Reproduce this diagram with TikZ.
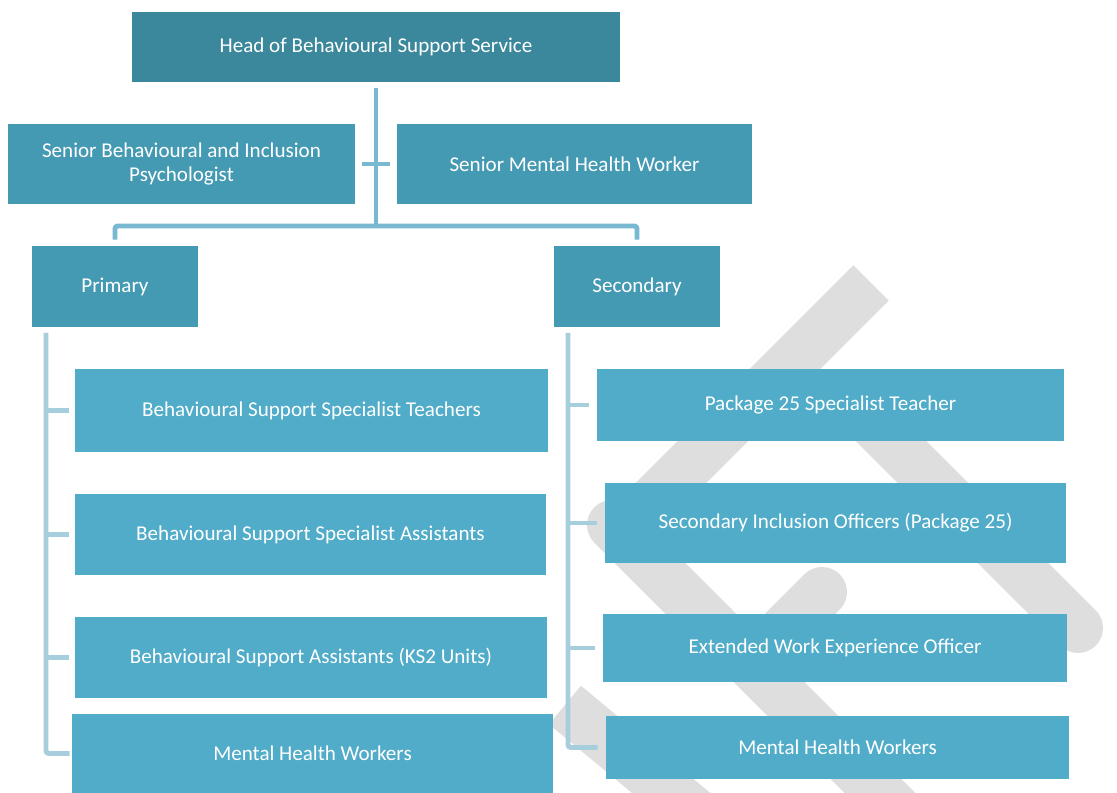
\documentclass[tikz,border=0pt]{standalone}
\usepackage{fontspec}
\setmainfont{Carlito}
\definecolor{headblue}{HTML}{3B879B}
\definecolor{midblue}{HTML}{4499B3}
\definecolor{lightblue}{HTML}{50ACC8}
\definecolor{treeline}{HTML}{78B8D0}
\definecolor{sideline}{HTML}{A6CEDC}
\definecolor{markgray}{HTML}{DEDEDE}
\tikzset{
    box/.style = {fill=lightblue, text=white, inner sep=2pt, align=center,
        font=\fontsize{15}{16.5}\selectfont},
    link/.style = {treeline, line width=3.5pt},
    side/.style = {sideline, line width=3.5pt},
    stripe/.style = {markgray, line width=1.25cm}
}
\begin{document}
\begin{tikzpicture}[x=0.025cm, y=-0.025cm]
    \useasboundingbox (0,0) rectangle (1117,793);
    % watermark behind the chart
    \draw [stripe] (871,283) -- (620,534);
    \draw [stripe, line cap=round] (860,410) -- (1078,628);
    \draw [stripe, line cap=round] (612,525) -- (900,813);
    \draw [stripe] (565,705) -- (740,850);
    \draw [stripe, line cap=round] (822,592) -- (760,654);
    % top levels
    \node [box, fill=headblue, minimum width=12.2cm, minimum height=1.75cm] (head) at (376,47) {Head of Behavioural Support Service};
    \node [box, fill=midblue, minimum width=8.675cm, minimum height=2cm] (psych) at (181.5,164) {Senior Behavioural and Inclusion\\Psychologist};
    \node [box, fill=midblue, minimum width=8.875cm, minimum height=2cm] (smhw) at (574.5,164) {Senior Mental Health Worker};
    \node [box, fill=midblue, minimum width=4.15cm, minimum height=2.025cm] (pri) at (115,286.5) {Primary};
    \node [box, fill=midblue, minimum width=4.15cm, minimum height=2.025cm] (sec) at (637,286.5) {Secondary};
    % primary team
    \node [box, minimum width=11.825cm, minimum height=2.075cm] (bsst) at (311.5,410.5) {Behavioural Support Specialist Teachers};
    \node [box, minimum width=11.775cm, minimum height=2.025cm] (bssa) at (310.5,534.5) {Behavioural Support Specialist Assistants};
    \node [box, minimum width=11.8cm, minimum height=2.025cm] (bsa) at (311,657.5) {Behavioural Support Assistants (KS2 Units)};
    \node [box, minimum width=12.025cm, minimum height=1.975cm] (primhw) at (312.5,753.5) {Mental Health Workers};
    % secondary team
    \node [box, minimum width=11.675cm, minimum height=1.8cm] (pkg) at (830.5,405) {Package 25 Specialist Teacher};
    \node [box, minimum width=11.525cm, minimum height=2cm] (sio) at (835.5,523) {Secondary Inclusion Officers (Package 25)};
    \node [box, minimum width=11.6cm, minimum height=1.7cm] (ewe) at (835,648) {Extended Work Experience Officer};
    \node [box, minimum width=11.575cm, minimum height=1.575cm] (secmhw) at (837.5,747.5) {Mental Health Workers};
    % tree
    \coordinate (hub) at (376,226);
    \coordinate (asst) at (376,164);
    \draw [link] ([yshift=-0.15cm]head.south) -- (hub);
    \draw [link] ([xshift=-0.35cm]asst) -- ([xshift=0.35cm]asst);
    \draw [link, rounded corners=2pt] ([yshift=0.15cm]pri.north) |- (hub) -| ([yshift=0.15cm]sec.north);
    % primary side line
    \coordinate (ptrunk) at (46,333);
    \draw [side, rounded corners=2pt] (ptrunk) |- ([xshift=-0.05cm]primhw.west);
    \foreach \n in {bsst, bssa, bsa}
        \draw [side] (ptrunk |- \n.west) -- ([xshift=-0.15cm]\n.west);
    % secondary side line
    \coordinate (strunk) at (568,333);
    \draw [side, rounded corners=2pt] (strunk) |- ([xshift=-0.2cm]secmhw.west);
    \foreach \n in {pkg, sio, ewe}
        \draw [side] (strunk |- \n.west) -- ([xshift=-0.2cm]\n.west);
\end{tikzpicture}
\end{document}
